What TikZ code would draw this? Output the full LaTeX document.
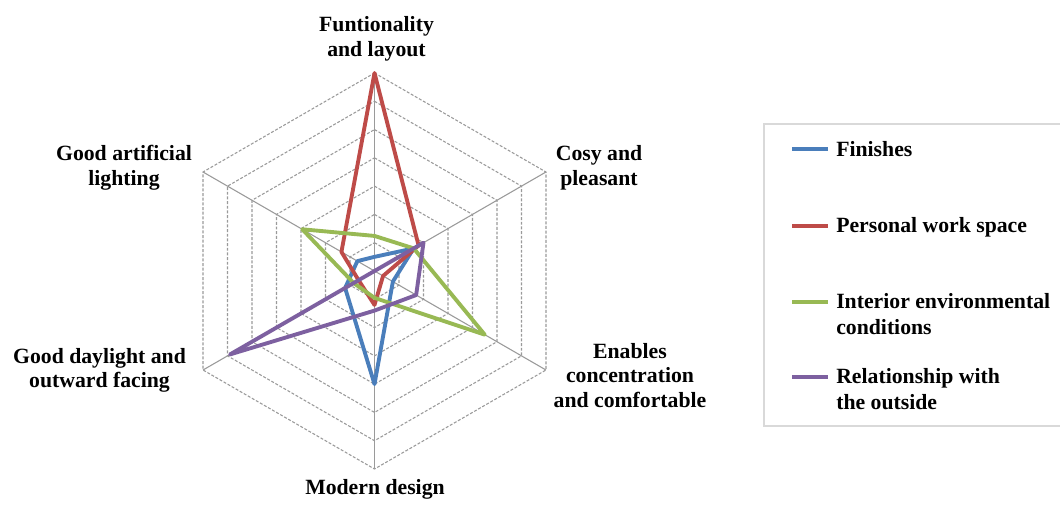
\documentclass[tikz,border=0pt]{standalone}
\usepackage{fontspec}
\setmainfont{Liberation Serif}
\definecolor{sblue}{HTML}{4A7EBB}
\definecolor{sred}{HTML}{BE4B48}
\definecolor{sgreen}{HTML}{98B954}
\definecolor{spurple}{HTML}{7D60A0}
\definecolor{gridgray}{HTML}{9A9A9A}
\definecolor{boxgray}{HTML}{D9D9D9}
\begin{document}
\begin{tikzpicture}[x=0.75pt,y=0.75pt,
  lbl/.style={font=\bfseries\fontsize{16.3}{18.4}\selectfont, align=center, inner sep=0pt},
  leg/.style={font=\bfseries\fontsize{16.3}{19.3}\selectfont, align=left, inner sep=0pt, anchor=west},
  gridring/.style={draw=gridgray, dash pattern=on 2.2pt off 1.3pt, line width=0.8pt},
  axisline/.style={draw=gridgray, line width=0.8pt},
  series/.style={line width=2.9pt, line join=round}]
\useasboundingbox (0,0) rectangle (1060,504);
\fill[white] (0,0) rectangle (1060,504);

\begin{scope}[shift={(280.875pt,174.75pt)}, x=21.2143pt, y=21.2143pt]
  \foreach \k in {1,...,7}
    \draw[gridring] (90:\k) -- (30:\k) -- (-30:\k) -- (-90:\k) -- (210:\k) -- (150:\k) -- cycle;
  \foreach \a in {90,30,-30,-90,210,150}
    \draw[axisline] (0,0) -- (\a:7);
  % Finishes
  \draw[series, sblue] (90:0.5) -- (30:1.6) -- (-30:0.75) -- (-90:4) -- (210:1.2) -- (150:0.7) -- cycle;
  % Personal work space
  \draw[series, sred] (90:7) -- (30:1.8) -- (-30:0.35) -- (-90:1.2) -- (210:0.65) -- (150:1.35) -- cycle;
  % Interior environmental conditions
  \draw[series, sgreen] (90:1.24) -- (30:1.6) -- (-30:4.5) -- (-90:0.95) -- (210:0.85) -- (150:2.95) -- cycle;
  % Relationship with the outside
  \draw[series, spurple] (90:0) -- (30:2) -- (-30:1.7) -- (-90:1.4) -- (210:5.9) -- (150:0) -- cycle;
\end{scope}

% axis labels
\node[lbl] (lF) at (376.5,465) {Funtionality\\and layout};
\node[lbl] (lC) at (599,336) {Cosy and\\pleasant};
\node[lbl] (lE) at (630,128.7) {Enables\\concentration\\and comfortable};
\node[lbl] (lM) at (375,15) {Modern design};
\node[lbl] (lD) at (99.5,133.5) {Good daylight and\\outward facing};
\node[lbl] (lA) at (124,336) {Good artificial\\lighting};

% legend
\draw[boxgray, line width=1.1pt] (764,78) rectangle (1070,380);
\draw[series, sblue] (792.3,354.7) -- (827.7,354.7);
\node[leg] (g1) at (836,354.7) {Finishes};
\draw[series, sred] (792.3,278) -- (827.7,278);
\node[leg] (g2) at (836,276.5) {Personal work space};
\draw[series, sgreen] (792.3,202.3) -- (827.7,202.3);
\node[leg] (g3) at (836,190.2) {Interior environmental\\conditions};
\draw[series, spurple] (792.3,126.7) -- (827.7,126.7);
\node[leg] (g4) at (836,115) {Relationship with\\the outside};
\end{tikzpicture}
\end{document}
